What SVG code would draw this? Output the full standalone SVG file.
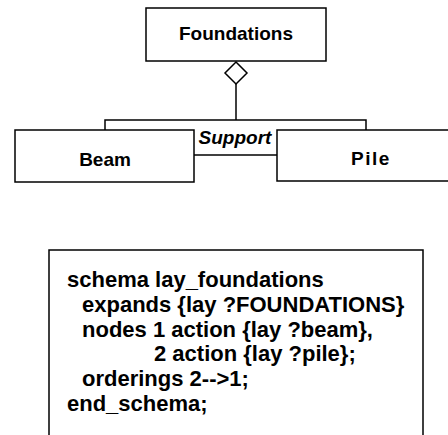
<svg xmlns="http://www.w3.org/2000/svg" width="448" height="435" viewBox="0 0 448 435">
<style>
  .box { fill: #fff; stroke: #000; stroke-width: 1.5; }
  .ln { fill: none; stroke: #000; stroke-width: 1.5; }
  .lbl { font-family: "Liberation Sans", Arial, sans-serif; font-size: 19px; font-weight: bold; fill: #000; }
  .code { font-family: "Liberation Sans", Arial, sans-serif; font-size: 22px; font-weight: bold; fill: #000; }
</style>
<rect width="448" height="435" fill="#fff"/>
<g id="connectors">
  <polygon class="box" points="236,62 247,73 236,84 225,73"/>
  <line class="ln" x1="236" y1="84" x2="236" y2="120"/>
  <polyline class="ln" points="105,130 105,120 366,120 366,130"/>
  <line class="ln" x1="194" y1="155" x2="277" y2="155"/>
  <text class="lbl" x="235" y="144" text-anchor="middle" font-style="italic" font-size="16.5">Support</text>
</g>
<g id="foundations">
  <rect class="box" x="146" y="8" width="180" height="53"/>
  <text class="lbl" x="236" y="40" text-anchor="middle" font-size="18.5">Foundations</text>
</g>
<g id="beam">
  <rect class="box" x="15" y="130" width="179" height="52"/>
  <text class="lbl" x="105" y="166" text-anchor="middle">Beam</text>
</g>
<g id="pile">
  <polyline class="box" points="449,130 277,130 277,181 449,181"/>
  <text class="lbl" x="371" y="165" text-anchor="middle" letter-spacing="1.5">Pile</text>
</g>
<g id="schema">
  <polyline class="ln" points="49,436 49,250 423,250 423,436"/>
  <text class="code" x="67" y="287">schema lay_foundations</text>
  <text class="code" x="82" y="312">expands {lay ?FOUNDATIONS}</text>
  <text class="code" x="82" y="337">nodes 1 action {lay ?beam},</text>
  <text class="code" x="154" y="361">2 action {lay ?pile};</text>
  <text class="code" x="82" y="386">orderings 2--&gt;1;</text>
  <text class="code" x="67" y="411">end_schema;</text>
</g>
</svg>
